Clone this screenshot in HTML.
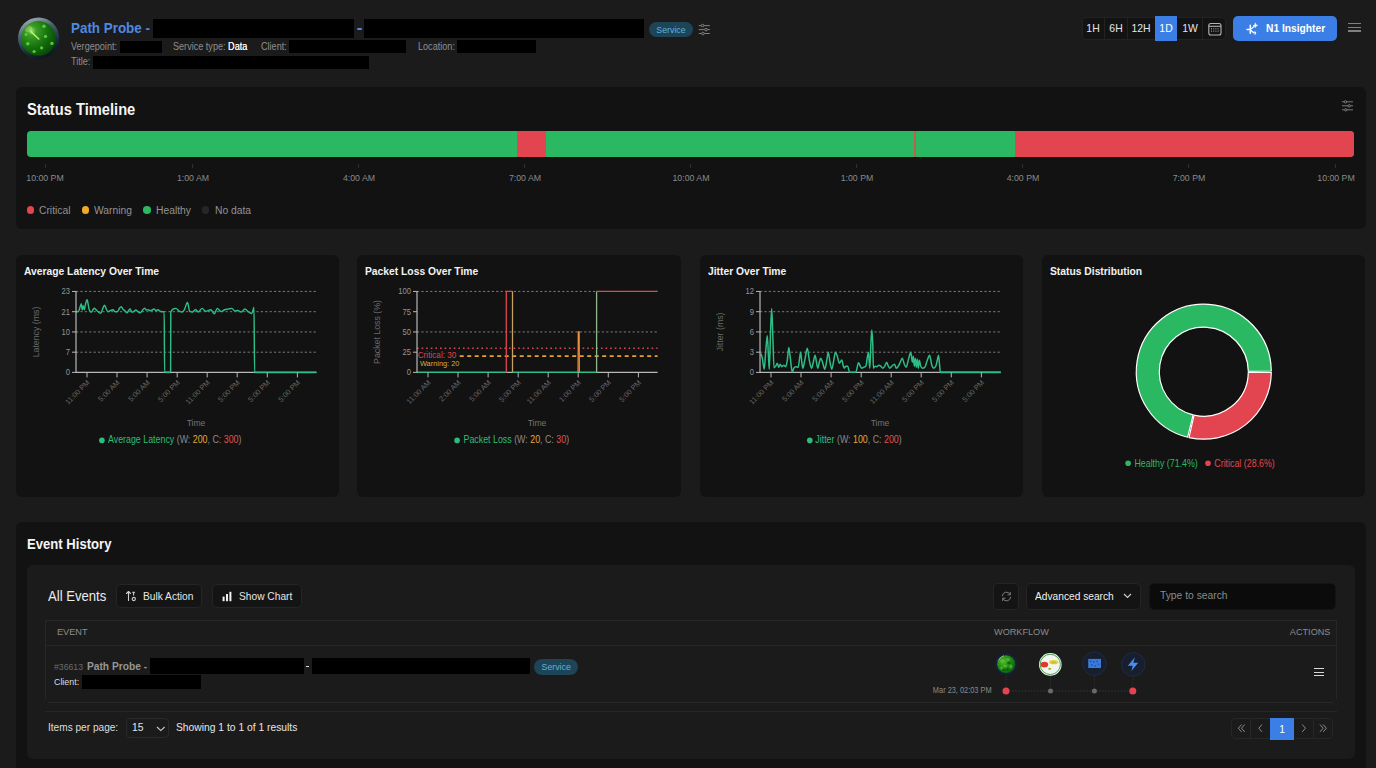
<!DOCTYPE html><html><head><meta charset="utf-8"><title>Path Probe</title><style>
html,body{margin:0;padding:0}
body{width:1376px;height:768px;overflow:hidden;background:#1b1b1b;font-family:"Liberation Sans",Arial,sans-serif;position:relative}
.a{position:absolute;box-sizing:border-box}
.t{position:absolute;white-space:nowrap}
svg{position:absolute;overflow:visible}
</style></head><body>
<svg style="left:17px;top:17px" width="43" height="43" viewBox="0 0 43 43">
<defs>
<radialGradient id="lg1" cx="0.3" cy="0.28" r="0.9"><stop offset="0" stop-color="#a8e070"/><stop offset="0.15" stop-color="#3c9e26"/><stop offset="0.5" stop-color="#17740f"/><stop offset="1" stop-color="#073806"/></radialGradient>
<linearGradient id="lg2" x1="0.2" y1="0" x2="0.6" y2="1"><stop offset="0" stop-color="#a9b6bb"/><stop offset="0.35" stop-color="#4a6470"/><stop offset="0.7" stop-color="#1a3240"/><stop offset="1" stop-color="#0a161e"/></linearGradient>
</defs>
<circle cx="21.6" cy="21.1" r="20.6" fill="url(#lg2)"/>
<circle cx="21.5" cy="21.4" r="17.3" fill="url(#lg1)"/>
<ellipse cx="11.5" cy="12" rx="4" ry="2.6" fill="#d8f8a0" opacity="0.3" transform="rotate(-40 11.5 12)"/>
<line x1="21.8" y1="22" x2="13.6" y2="14.4" stroke="#b8f070" stroke-width="1.5" stroke-linecap="round"/>
<g fill="#58d03a" opacity="0.95"><circle cx="27" cy="9.3" r="1.8"/><circle cx="28.5" cy="19.4" r="1.7"/><circle cx="34.9" cy="26.4" r="1.7"/><circle cx="24.6" cy="30.8" r="1.6"/><circle cx="17.1" cy="34.5" r="1.6"/><circle cx="10.8" cy="26.7" r="1.8"/><circle cx="9" cy="17.6" r="1.5"/></g>
</svg>
<div class="t" style="left:71.30px;top:20.75px;font-size:14.47px;line-height:14.47px;color:#4f89e0;font-weight:700;transform:scaleX(0.9259);transform-origin:0 0;">Path Probe -</div>
<div class="a" style="left:153.00px;top:19.00px;width:200.80px;height:18.70px;background:#000"></div>
<div class="a" style="left:357.40px;top:28.00px;width:4.40px;height:2.00px;background:#4f89e0;border-radius:1px"></div>
<div class="a" style="left:364.00px;top:19.00px;width:280.00px;height:18.70px;background:#000"></div>
<div class="a" style="left:649px;top:22.4px;width:44px;height:15px;border-radius:8px;background:#1e4458;color:#5ab4dc;font-size:8.8px;line-height:16.6px;text-align:center">Service</div>
<svg style="left:698px;top:23px" width="13" height="13" viewBox="0 0 13 13"><g stroke="#8a8a8a" stroke-width="0.9" fill="none">
<line x1="0.7" y1="2.6" x2="11.9" y2="2.6"/><line x1="0.7" y1="6.6" x2="11.9" y2="6.6"/><line x1="0.7" y1="10.5" x2="11.9" y2="10.5"/></g>
<g fill="#1b1b1b" stroke="#8a8a8a" stroke-width="0.9"><circle cx="4.6" cy="2.6" r="1.3"/><circle cx="8" cy="6.6" r="1.3"/><circle cx="4.9" cy="10.5" r="1.3"/></g></svg>
<div class="t" style="left:71.00px;top:40.56px;font-size:10.56px;line-height:10.56px;color:#8f8f8f;font-weight:400;transform:scaleX(0.8621);transform-origin:0 0;">Vergepoint:</div>
<div class="a" style="left:120.00px;top:40.80px;width:41.70px;height:12.50px;background:#000"></div>
<div class="t" style="left:173.40px;top:40.56px;font-size:10.56px;line-height:10.56px;color:#8f8f8f;font-weight:400;transform:scaleX(0.8621);transform-origin:0 0;">Service type: <span style="color:#f4f4f4;text-shadow:0 0 0.35px #fff">Data</span></div>
<div class="t" style="left:261.00px;top:40.56px;font-size:10.56px;line-height:10.56px;color:#8f8f8f;font-weight:400;transform:scaleX(0.8621);transform-origin:0 0;">Client:</div>
<div class="a" style="left:289.00px;top:40.40px;width:117.00px;height:12.60px;background:#000"></div>
<div class="t" style="left:418.00px;top:40.56px;font-size:10.56px;line-height:10.56px;color:#8f8f8f;font-weight:400;transform:scaleX(0.8621);transform-origin:0 0;">Location:</div>
<div class="a" style="left:457.00px;top:40.40px;width:78.70px;height:12.80px;background:#000"></div>
<div class="t" style="left:71.00px;top:56.21px;font-size:10.74px;line-height:10.74px;color:#8f8f8f;font-weight:400;transform:scaleX(0.8475);transform-origin:0 0;">Title:</div>
<div class="a" style="left:93.00px;top:56.20px;width:276.00px;height:12.70px;background:#000"></div>
<div class="a" style="left:1081.60px;top:16.70px;width:144.80px;height:22.90px;background:#131313;border:1px solid #222;border-radius:4px"></div>
<div class="t" style="left:893.00px;width:400px;text-align:center;top:23.22px;font-size:11.44px;line-height:11.44px;color:#e6e6e6;font-weight:400;transform:scaleX(0.9091);transform-origin:50% 0;">1H</div>
<div class="t" style="left:915.50px;width:400px;text-align:center;top:23.22px;font-size:11.44px;line-height:11.44px;color:#e6e6e6;font-weight:400;transform:scaleX(0.9091);transform-origin:50% 0;">6H</div>
<div class="t" style="left:941.00px;width:400px;text-align:center;top:23.22px;font-size:11.44px;line-height:11.44px;color:#e6e6e6;font-weight:400;transform:scaleX(0.9091);transform-origin:50% 0;">12H</div>
<div class="a" style="left:1154.80px;top:16.00px;width:22.20px;height:24.80px;background:#3b7fe6"></div>
<div class="t" style="left:966.00px;width:400px;text-align:center;top:23.22px;font-size:11.44px;line-height:11.44px;color:#ffffff;font-weight:400;transform:scaleX(0.9091);transform-origin:50% 0;">1D</div>
<div class="t" style="left:989.50px;width:400px;text-align:center;top:23.22px;font-size:11.44px;line-height:11.44px;color:#e6e6e6;font-weight:400;transform:scaleX(0.9091);transform-origin:50% 0;">1W</div>
<div class="a" style="left:1104.00px;top:17.70px;width:1.00px;height:20.90px;background:#222"></div>
<div class="a" style="left:1127.00px;top:17.70px;width:1.00px;height:20.90px;background:#222"></div>
<div class="a" style="left:1202.00px;top:17.70px;width:1.00px;height:20.90px;background:#222"></div>
<svg style="left:1207.5px;top:22px" width="14" height="14" viewBox="0 0 14 14"><g fill="none" stroke="#b4b4b4" stroke-width="1.1">
<rect x="0.8" y="1.5" width="12.2" height="11.5" rx="2"/><line x1="0.8" y1="4.3" x2="13" y2="4.3"/></g>
<g fill="#b4b4b4"><rect x="3" y="6.3" width="1" height="1"/><rect x="5.2" y="6.3" width="1" height="1"/><rect x="7.4" y="6.3" width="1" height="1"/><rect x="9.6" y="6.3" width="1" height="1"/>
<rect x="3" y="8.6" width="1" height="1"/><rect x="5.2" y="8.6" width="1" height="1"/><rect x="7.4" y="8.6" width="1" height="1"/><rect x="9.6" y="8.6" width="1" height="1"/></g></svg>
<div class="a" style="left:1233.00px;top:16.00px;width:104.00px;height:24.50px;background:#3b7fe6;border-radius:5px"></div>
<svg style="left:1245px;top:21.5px" width="14" height="14" viewBox="0 0 14 14"><g fill="#ffffff" stroke="#ffffff" stroke-linecap="round" stroke-linejoin="round">
<path d="M5.3 3.2 L5.3 6.2 M2 7.6 L5 7.6 M5.3 9 L5.3 11.2" stroke-width="1.5" fill="none"/>
<path d="M5.2 7.4 L9.2 4.6 M5.2 7.6 L8.6 10.8" stroke-width="1.2" fill="none"/>
<path d="M10.4 1.2 L11 2.9 L12.6 3.4 L11 4 L10.4 5.6 L9.8 4 L8.2 3.4 L9.8 2.9 Z" stroke-width="0.6"/>
<path d="M9 10 L10.6 10.3 L10 12.2" stroke-width="1.2" fill="none"/></g></svg>
<div class="t" style="left:1265.50px;top:23.26px;font-size:11.28px;line-height:11.28px;color:#ffffff;font-weight:700;transform:scaleX(0.9091);transform-origin:0 0;">N1 Insighter</div>
<div class="a" style="left:1348.40px;top:22.60px;width:13.10px;height:1.40px;background:#808080"></div>
<div class="a" style="left:1348.40px;top:26.70px;width:13.10px;height:1.40px;background:#808080"></div>
<div class="a" style="left:1348.40px;top:30.40px;width:13.10px;height:1.40px;background:#808080"></div>
<div class="a" style="left:16.00px;top:86.80px;width:1350.00px;height:141.90px;background:#121212;border-radius:6px"></div>
<div class="t" style="left:27.00px;top:100.71px;font-size:16.17px;line-height:16.17px;color:#f5f5f5;font-weight:700;transform:scaleX(0.9091);transform-origin:0 0;">Status Timeline</div>
<svg style="left:1341px;top:100px" width="13" height="12" viewBox="0 0 13 12"><g stroke="#858585" stroke-width="0.9" fill="none">
<line x1="1" y1="1.8" x2="12" y2="1.8"/><line x1="1" y1="5.8" x2="12" y2="5.8"/><line x1="1" y1="9.8" x2="12" y2="9.8"/></g>
<g fill="#121212" stroke="#858585" stroke-width="0.9"><circle cx="4.5" cy="1.8" r="1.2"/><circle cx="8.2" cy="5.8" r="1.2"/><circle cx="4.8" cy="9.8" r="1.2"/></g></svg>
<div class="a" style="left:27px;top:131.4px;width:1327.4px;height:25.3px;border-radius:4px;overflow:hidden;background:#2bb862">
<div class="a" style="left:489.80px;top:0;width:29.10px;height:100%;background:#e2454f"></div>
<div class="a" style="left:887.10px;top:0;width:1.50px;height:100%;background:#c0604c"></div>
<div class="a" style="left:987.80px;top:0;width:339.60px;height:100%;background:#e2454f"></div>
</div>
<div class="a" style="left:44.90px;top:163.50px;width:1.00px;height:4.00px;background:#2e2e2e"></div>
<div class="t" style="left:-154.60px;width:400px;text-align:center;top:173.24px;font-size:9.64px;line-height:9.64px;color:#8a8a8a;font-weight:400;transform:scaleX(0.9091);transform-origin:50% 0;">10:00 PM</div>
<div class="a" style="left:192.20px;top:163.50px;width:1.00px;height:4.00px;background:#2e2e2e"></div>
<div class="t" style="left:-7.30px;width:400px;text-align:center;top:173.24px;font-size:9.64px;line-height:9.64px;color:#8a8a8a;font-weight:400;transform:scaleX(0.9091);transform-origin:50% 0;">1:00 AM</div>
<div class="a" style="left:358.20px;top:163.50px;width:1.00px;height:4.00px;background:#2e2e2e"></div>
<div class="t" style="left:158.70px;width:400px;text-align:center;top:173.24px;font-size:9.64px;line-height:9.64px;color:#8a8a8a;font-weight:400;transform:scaleX(0.9091);transform-origin:50% 0;">4:00 AM</div>
<div class="a" style="left:524.20px;top:163.50px;width:1.00px;height:4.00px;background:#2e2e2e"></div>
<div class="t" style="left:324.70px;width:400px;text-align:center;top:173.24px;font-size:9.64px;line-height:9.64px;color:#8a8a8a;font-weight:400;transform:scaleX(0.9091);transform-origin:50% 0;">7:00 AM</div>
<div class="a" style="left:690.20px;top:163.50px;width:1.00px;height:4.00px;background:#2e2e2e"></div>
<div class="t" style="left:490.70px;width:400px;text-align:center;top:173.24px;font-size:9.64px;line-height:9.64px;color:#8a8a8a;font-weight:400;transform:scaleX(0.9091);transform-origin:50% 0;">10:00 AM</div>
<div class="a" style="left:856.20px;top:163.50px;width:1.00px;height:4.00px;background:#2e2e2e"></div>
<div class="t" style="left:656.70px;width:400px;text-align:center;top:173.24px;font-size:9.64px;line-height:9.64px;color:#8a8a8a;font-weight:400;transform:scaleX(0.9091);transform-origin:50% 0;">1:00 PM</div>
<div class="a" style="left:1022.20px;top:163.50px;width:1.00px;height:4.00px;background:#2e2e2e"></div>
<div class="t" style="left:822.70px;width:400px;text-align:center;top:173.24px;font-size:9.64px;line-height:9.64px;color:#8a8a8a;font-weight:400;transform:scaleX(0.9091);transform-origin:50% 0;">4:00 PM</div>
<div class="a" style="left:1188.00px;top:163.50px;width:1.00px;height:4.00px;background:#2e2e2e"></div>
<div class="t" style="left:988.50px;width:400px;text-align:center;top:173.24px;font-size:9.64px;line-height:9.64px;color:#8a8a8a;font-weight:400;transform:scaleX(0.9091);transform-origin:50% 0;">7:00 PM</div>
<div class="a" style="left:1335.40px;top:163.50px;width:1.00px;height:4.00px;background:#2e2e2e"></div>
<div class="t" style="left:1135.90px;width:400px;text-align:center;top:173.24px;font-size:9.64px;line-height:9.64px;color:#8a8a8a;font-weight:400;transform:scaleX(0.9091);transform-origin:50% 0;">10:00 PM</div>
<div class="a" style="left:26.55px;top:206.15px;width:7.50px;height:7.50px;background:#e2454f;border-radius:50%"></div>
<div class="t" style="left:38.80px;top:204.72px;font-size:10.61px;line-height:10.61px;color:#929292;font-weight:400;transform:scaleX(0.9709);transform-origin:0 0;">Critical</div>
<div class="a" style="left:81.85px;top:206.15px;width:7.50px;height:7.50px;background:#f0a92a;border-radius:50%"></div>
<div class="t" style="left:94.30px;top:204.72px;font-size:10.61px;line-height:10.61px;color:#929292;font-weight:400;transform:scaleX(0.9709);transform-origin:0 0;">Warning</div>
<div class="a" style="left:143.45px;top:206.15px;width:7.50px;height:7.50px;background:#2bb862;border-radius:50%"></div>
<div class="t" style="left:155.70px;top:204.72px;font-size:10.61px;line-height:10.61px;color:#929292;font-weight:400;transform:scaleX(0.9709);transform-origin:0 0;">Healthy</div>
<div class="a" style="left:201.95px;top:206.15px;width:7.50px;height:7.50px;background:#262626;border-radius:50%"></div>
<div class="t" style="left:214.50px;top:204.72px;font-size:10.61px;line-height:10.61px;color:#929292;font-weight:400;transform:scaleX(0.9709);transform-origin:0 0;">No data</div>
<div class="a" style="left:16.00px;top:254.80px;width:323.30px;height:241.90px;background:#121212;border-radius:6px"></div>
<div class="t" style="left:24.00px;top:266.01px;font-size:11.33px;line-height:11.33px;color:#f2f2f2;font-weight:700;transform:scaleX(0.9091);transform-origin:0 0;">Average Latency Over Time</div>
<div class="a" style="left:357.30px;top:254.80px;width:323.30px;height:241.90px;background:#121212;border-radius:6px"></div>
<div class="t" style="left:365.30px;top:266.01px;font-size:11.33px;line-height:11.33px;color:#f2f2f2;font-weight:700;transform:scaleX(0.9091);transform-origin:0 0;">Packet Loss Over Time</div>
<div class="a" style="left:700.20px;top:254.80px;width:323.30px;height:241.90px;background:#121212;border-radius:6px"></div>
<div class="t" style="left:708.20px;top:266.01px;font-size:11.33px;line-height:11.33px;color:#f2f2f2;font-weight:700;transform:scaleX(0.9091);transform-origin:0 0;">Jitter Over Time</div>
<div class="a" style="left:1042.20px;top:254.80px;width:323.30px;height:241.90px;background:#121212;border-radius:6px"></div>
<div class="t" style="left:1050.20px;top:266.01px;font-size:11.33px;line-height:11.33px;color:#f2f2f2;font-weight:700;transform:scaleX(0.9091);transform-origin:0 0;">Status Distribution</div>
<svg style="left:16px;top:254.8px" width="323.3" height="241.9" viewBox="0 0 323.3 241.9">
<line x1="60" y1="36.45" x2="300.6" y2="36.45" stroke="#7c7c7c" stroke-width="1" stroke-dasharray="2.2 2.2"/>
<line x1="60" y1="56.7" x2="300.6" y2="56.7" stroke="#7c7c7c" stroke-width="1" stroke-dasharray="2.2 2.2"/>
<line x1="60" y1="76.95" x2="300.6" y2="76.95" stroke="#7c7c7c" stroke-width="1" stroke-dasharray="2.2 2.2"/>
<line x1="60" y1="97.2" x2="300.6" y2="97.2" stroke="#7c7c7c" stroke-width="1" stroke-dasharray="2.2 2.2"/>
<line x1="56" y1="36.45" x2="60" y2="36.45" stroke="#b8b8b8" stroke-width="1"/>
<text x="0" y="0" transform="translate(54 39.35) scale(0.9091 1)" font-size="8.36" fill="#959595" text-anchor="end">23</text>
<line x1="56" y1="56.7" x2="60" y2="56.7" stroke="#b8b8b8" stroke-width="1"/>
<text x="0" y="0" transform="translate(54 59.6) scale(0.9091 1)" font-size="8.36" fill="#959595" text-anchor="end">21</text>
<line x1="56" y1="76.95" x2="60" y2="76.95" stroke="#b8b8b8" stroke-width="1"/>
<text x="0" y="0" transform="translate(54 79.85000000000001) scale(0.9091 1)" font-size="8.36" fill="#959595" text-anchor="end">10</text>
<line x1="56" y1="97.2" x2="60" y2="97.2" stroke="#b8b8b8" stroke-width="1"/>
<text x="0" y="0" transform="translate(54 100.10000000000001) scale(0.9091 1)" font-size="8.36" fill="#959595" text-anchor="end">7</text>
<line x1="56" y1="117.4" x2="60" y2="117.4" stroke="#b8b8b8" stroke-width="1"/>
<text x="0" y="0" transform="translate(54 120.30000000000001) scale(0.9091 1)" font-size="8.36" fill="#959595" text-anchor="end">0</text>
<text x="0" y="0" transform="translate(23 77) rotate(-90)" font-size="8.8" fill="#6a6a6a" text-anchor="middle">Latency (ms)</text>
<path d="M60.00,56.70 C60.80,56.67 61.60,56.63 62.40,56.50 C62.93,56.41 63.47,53.61 64.00,52.20 C64.43,51.05 64.87,48.80 65.30,48.80 C65.60,48.80 65.90,55.00 66.20,55.00 C66.53,55.00 66.87,50.70 67.20,50.70 C67.57,50.70 67.93,54.70 68.30,54.70 C68.70,54.70 69.10,50.72 69.50,49.20 C70.03,47.17 70.57,44.80 71.10,44.80 C71.57,44.80 72.03,49.01 72.50,51.20 C72.77,52.45 73.03,54.44 73.30,55.00 C74.00,56.47 74.70,57.20 75.40,57.20 C75.93,57.20 76.47,55.41 77.00,54.70 C77.43,54.12 77.87,53.20 78.30,53.20 C78.87,53.20 79.43,54.17 80.00,54.70 C80.67,55.32 81.33,56.16 82.00,56.70 C82.97,57.48 83.93,58.20 84.90,58.20 C85.43,58.20 85.97,55.41 86.50,54.20 C87.17,52.68 87.83,50.20 88.50,50.20 C89.00,50.20 89.50,52.01 90.00,53.20 C90.23,53.76 90.47,54.56 90.70,55.00 C91.30,56.13 91.90,56.70 92.50,56.70 C93.00,56.70 93.50,55.95 94.00,55.70 C94.50,55.45 95.00,55.37 95.50,55.20 C96.00,55.03 96.50,54.70 97.00,54.70 C97.67,54.70 98.33,56.70 99.00,56.70 C99.87,56.70 100.73,56.63 101.60,56.50 C102.23,56.40 102.87,54.01 103.50,53.20 C104.07,52.47 104.63,51.70 105.20,51.70 C105.80,51.70 106.40,53.54 107.00,54.20 C107.63,54.89 108.27,55.12 108.90,55.70 C109.60,56.34 110.30,57.90 111.00,57.90 C111.50,57.90 112.00,56.37 112.50,55.70 C113.00,55.03 113.50,53.90 114.00,53.90 C114.67,53.90 115.33,57.20 116.00,57.20 C116.67,57.20 117.33,56.59 118.00,56.20 C118.60,55.85 119.20,55.00 119.80,55.00 C120.53,55.00 121.27,56.21 122.00,56.70 C122.70,57.17 123.40,57.90 124.10,57.90 C124.90,57.90 125.70,56.05 126.50,55.20 C127.17,54.50 127.83,53.20 128.50,53.20 C129.17,53.20 129.83,55.00 130.50,55.00 C131.17,55.00 131.83,54.70 132.50,54.70 C133.00,54.70 133.50,55.70 134.00,55.70 C134.67,55.70 135.33,55.48 136.00,55.20 C136.67,54.92 137.33,54.00 138.00,54.00 C138.67,54.00 139.33,55.70 140.00,55.70 C140.67,55.70 141.33,54.70 142.00,54.70 C142.67,54.70 143.33,55.87 144.00,56.20 C144.67,56.53 145.33,56.70 146.00,56.70 C146.73,56.70 147.47,56.70 148.20,56.70 C148.33,56.70 148.47,117.40 148.60,117.40 C150.60,117.40 152.60,117.40 154.60,117.40 C154.67,117.40 154.73,57.15 154.80,57.00 C155.77,54.80 156.73,53.96 157.70,53.70 C158.43,53.50 159.17,53.40 159.90,53.40 C161.10,53.40 162.30,55.70 163.50,56.30 C164.23,56.67 164.97,57.00 165.70,57.00 C166.57,57.00 167.43,56.08 168.30,54.80 C169.37,53.23 170.43,47.60 171.50,47.60 C172.23,47.60 172.97,55.95 173.70,56.30 C174.67,56.77 175.63,57.00 176.60,57.00 C177.57,57.00 178.53,54.50 179.50,54.50 C180.47,54.50 181.43,57.00 182.40,57.00 C183.63,57.00 184.87,53.40 186.10,53.40 C187.30,53.40 188.50,56.30 189.70,56.30 C191.40,56.30 193.10,54.80 194.80,54.80 C196.00,54.80 197.20,58.80 198.40,58.80 C199.37,58.80 200.33,53.40 201.30,53.40 C202.53,53.40 203.77,56.60 205.00,56.60 C206.20,56.60 207.40,55.22 208.60,54.80 C209.80,54.38 211.00,54.33 212.20,54.10 C213.43,53.86 214.67,53.40 215.90,53.40 C216.87,53.40 217.83,55.90 218.80,55.90 C219.77,55.90 220.73,55.50 221.70,55.50 C222.90,55.50 224.10,57.00 225.30,57.00 C226.50,57.00 227.70,54.10 228.90,54.10 C230.13,54.10 231.37,56.24 232.60,57.00 C233.67,57.66 234.73,58.50 235.80,58.50 C236.53,58.50 237.27,52.30 238.00,52.30 C238.20,52.30 238.40,117.40 238.60,117.40 C259.15,117.40 279.70,117.40 300.25,117.40" fill="none" stroke="#2dbd86" stroke-width="1.45" stroke-linejoin="round"/><line x1="60" y1="117.4" x2="300.6" y2="117.4" stroke="#b8b8b8" stroke-width="1.3"/><polyline points="238.6,117.4 300.2,117.4" fill="none" stroke="#2dbd86" stroke-width="1.5"/><polyline points="148.6,117.4 154.6,117.4" fill="none" stroke="#2dbd86" stroke-width="1.5"/>
<line x1="60" y1="35.95" x2="60" y2="117.4" stroke="#b8b8b8" stroke-width="1.2"/>
<line x1="71.0" y1="117.4" x2="71.0" y2="122.4" stroke="#b8b8b8" stroke-width="1"/>
<text x="0" y="0" transform="translate(74.1 128.1) rotate(-45)" font-size="7.35" fill="#686868" text-anchor="end">11:00 PM</text>
<line x1="101.0" y1="117.4" x2="101.0" y2="122.4" stroke="#b8b8b8" stroke-width="1"/>
<text x="0" y="0" transform="translate(104.1 128.1) rotate(-45)" font-size="7.35" fill="#686868" text-anchor="end">5:00 AM</text>
<line x1="131.1" y1="117.4" x2="131.1" y2="122.4" stroke="#b8b8b8" stroke-width="1"/>
<text x="0" y="0" transform="translate(134.2 128.1) rotate(-45)" font-size="7.35" fill="#686868" text-anchor="end">5:00 AM</text>
<line x1="161.2" y1="117.4" x2="161.2" y2="122.4" stroke="#b8b8b8" stroke-width="1"/>
<text x="0" y="0" transform="translate(164.2 128.1) rotate(-45)" font-size="7.35" fill="#686868" text-anchor="end">5:00 PM</text>
<line x1="191.2" y1="117.4" x2="191.2" y2="122.4" stroke="#b8b8b8" stroke-width="1"/>
<text x="0" y="0" transform="translate(194.3 128.1) rotate(-45)" font-size="7.35" fill="#686868" text-anchor="end">11:00 PM</text>
<line x1="221.2" y1="117.4" x2="221.2" y2="122.4" stroke="#b8b8b8" stroke-width="1"/>
<text x="0" y="0" transform="translate(224.3 128.1) rotate(-45)" font-size="7.35" fill="#686868" text-anchor="end">5:00 PM</text>
<line x1="251.3" y1="117.4" x2="251.3" y2="122.4" stroke="#b8b8b8" stroke-width="1"/>
<text x="0" y="0" transform="translate(254.4 128.1) rotate(-45)" font-size="7.35" fill="#686868" text-anchor="end">5:00 PM</text>
<line x1="281.4" y1="117.4" x2="281.4" y2="122.4" stroke="#b8b8b8" stroke-width="1"/>
<text x="0" y="0" transform="translate(284.5 128.1) rotate(-45)" font-size="7.35" fill="#686868" text-anchor="end">5:00 PM</text>
<text x="0" y="0" transform="translate(180 171.2) scale(0.9091 1)" font-size="9.46" fill="#727272" text-anchor="middle">Time</text>
<circle cx="85.9" cy="185.4" r="2.8" fill="#2dbd7a"/><text x="0" y="0" transform="translate(92 188.5) scale(0.8772 1)" font-size="10.09" fill="#2dbd7a">Average Latency <tspan fill="#8a8a8a">(W: </tspan><tspan fill="#e0a83a">200</tspan><tspan fill="#8a8a8a">, C: </tspan><tspan fill="#e05050">300</tspan><tspan fill="#8a8a8a">)</tspan></text>
</svg>
<svg style="left:357.3px;top:254.8px" width="323.3" height="241.9" viewBox="0 0 323.3 241.9">
<line x1="60" y1="36.45" x2="300.6" y2="36.45" stroke="#7c7c7c" stroke-width="1" stroke-dasharray="2.2 2.2"/>
<line x1="60" y1="76.95" x2="300.6" y2="76.95" stroke="#7c7c7c" stroke-width="1" stroke-dasharray="2.2 2.2"/>
<line x1="56" y1="36.45" x2="60" y2="36.45" stroke="#b8b8b8" stroke-width="1"/>
<text x="0" y="0" transform="translate(54 39.35) scale(0.9091 1)" font-size="8.36" fill="#959595" text-anchor="end">100</text>
<line x1="56" y1="56.7" x2="60" y2="56.7" stroke="#b8b8b8" stroke-width="1"/>
<text x="0" y="0" transform="translate(54 59.6) scale(0.9091 1)" font-size="8.36" fill="#959595" text-anchor="end">75</text>
<line x1="56" y1="76.95" x2="60" y2="76.95" stroke="#b8b8b8" stroke-width="1"/>
<text x="0" y="0" transform="translate(54 79.85000000000001) scale(0.9091 1)" font-size="8.36" fill="#959595" text-anchor="end">50</text>
<line x1="56" y1="97.2" x2="60" y2="97.2" stroke="#b8b8b8" stroke-width="1"/>
<text x="0" y="0" transform="translate(54 100.10000000000001) scale(0.9091 1)" font-size="8.36" fill="#959595" text-anchor="end">25</text>
<line x1="56" y1="117.4" x2="60" y2="117.4" stroke="#b8b8b8" stroke-width="1"/>
<text x="0" y="0" transform="translate(54 120.30000000000001) scale(0.9091 1)" font-size="8.36" fill="#959595" text-anchor="end">0</text>
<text x="0" y="0" transform="translate(23 77) rotate(-90)" font-size="8.8" fill="#6a6a6a" text-anchor="middle">Packet Loss (%)</text>
<line x1="60" y1="93.2" x2="300.6" y2="93.2" stroke="#d9464f" stroke-width="1.6" stroke-dasharray="1.6 3"/><line x1="102.7" y1="101.1" x2="300.6" y2="101.1" stroke="#e8a030" stroke-width="1.6" stroke-dasharray="4 3.5"/><text x="60.7" y="102.9" font-size="8.2" fill="#d9464f">Critical: 30</text><text x="62.9" y="110.8" font-size="7.4" fill="#d8ae3c">Warning: 20</text><line x1="60" y1="117.4" x2="300.6" y2="117.4" stroke="#b8b8b8" stroke-width="1.3"/><polyline points="60.2,117.4 149.3,117.4" fill="none" stroke="#2dbd86" stroke-width="1.4"/><polyline points="149.3,117.4 149.3,36.4 155.5,36.4" fill="none" stroke="#e0474f" stroke-width="1.3"/><polyline points="155.5,36.4 155.5,117.4" fill="none" stroke="#c8a060" stroke-width="1.3"/><polyline points="155.5,117.4 239.6,117.4" fill="none" stroke="#2dbd86" stroke-width="1.4"/><polyline points="221.0,117.4 221.2,76.8 222.2,76.8 222.4,117.4" fill="none" stroke="#f0903a" stroke-width="1.1"/><polyline points="239.6,117.4 239.6,36.4" fill="none" stroke="#8fb888" stroke-width="1.3"/><polyline points="239.6,36.4 300.7,36.4" fill="none" stroke="#e0474f" stroke-width="1.4"/>
<line x1="60" y1="35.95" x2="60" y2="117.4" stroke="#b8b8b8" stroke-width="1.2"/>
<line x1="71.0" y1="117.4" x2="71.0" y2="122.4" stroke="#b8b8b8" stroke-width="1"/>
<text x="0" y="0" transform="translate(74.1 128.1) rotate(-45)" font-size="7.35" fill="#686868" text-anchor="end">11:00 AM</text>
<line x1="101.0" y1="117.4" x2="101.0" y2="122.4" stroke="#b8b8b8" stroke-width="1"/>
<text x="0" y="0" transform="translate(104.1 128.1) rotate(-45)" font-size="7.35" fill="#686868" text-anchor="end">2:00 AM</text>
<line x1="131.1" y1="117.4" x2="131.1" y2="122.4" stroke="#b8b8b8" stroke-width="1"/>
<text x="0" y="0" transform="translate(134.2 128.1) rotate(-45)" font-size="7.35" fill="#686868" text-anchor="end">5:00 AM</text>
<line x1="161.2" y1="117.4" x2="161.2" y2="122.4" stroke="#b8b8b8" stroke-width="1"/>
<text x="0" y="0" transform="translate(164.2 128.1) rotate(-45)" font-size="7.35" fill="#686868" text-anchor="end">5:00 PM</text>
<line x1="191.2" y1="117.4" x2="191.2" y2="122.4" stroke="#b8b8b8" stroke-width="1"/>
<text x="0" y="0" transform="translate(194.3 128.1) rotate(-45)" font-size="7.35" fill="#686868" text-anchor="end">11:00 AM</text>
<line x1="221.2" y1="117.4" x2="221.2" y2="122.4" stroke="#b8b8b8" stroke-width="1"/>
<text x="0" y="0" transform="translate(224.3 128.1) rotate(-45)" font-size="7.35" fill="#686868" text-anchor="end">1:00 PM</text>
<line x1="251.3" y1="117.4" x2="251.3" y2="122.4" stroke="#b8b8b8" stroke-width="1"/>
<text x="0" y="0" transform="translate(254.4 128.1) rotate(-45)" font-size="7.35" fill="#686868" text-anchor="end">5:00 PM</text>
<line x1="281.4" y1="117.4" x2="281.4" y2="122.4" stroke="#b8b8b8" stroke-width="1"/>
<text x="0" y="0" transform="translate(284.5 128.1) rotate(-45)" font-size="7.35" fill="#686868" text-anchor="end">5:00 PM</text>
<text x="0" y="0" transform="translate(180 171.2) scale(0.9091 1)" font-size="9.46" fill="#727272" text-anchor="middle">Time</text>
<circle cx="100.1" cy="185.4" r="2.8" fill="#2dbd7a"/><text x="0" y="0" transform="translate(106.5 188.5) scale(0.8772 1)" font-size="10.09" fill="#2dbd7a">Packet Loss <tspan fill="#8a8a8a">(W: </tspan><tspan fill="#e0a83a">20</tspan><tspan fill="#8a8a8a">, C: </tspan><tspan fill="#e05050">30</tspan><tspan fill="#8a8a8a">)</tspan></text>
</svg>
<svg style="left:700.2px;top:254.8px" width="323.3" height="241.9" viewBox="0 0 323.3 241.9">
<line x1="60" y1="36.45" x2="300.6" y2="36.45" stroke="#7c7c7c" stroke-width="1" stroke-dasharray="2.2 2.2"/>
<line x1="60" y1="56.7" x2="300.6" y2="56.7" stroke="#7c7c7c" stroke-width="1" stroke-dasharray="2.2 2.2"/>
<line x1="60" y1="76.95" x2="300.6" y2="76.95" stroke="#7c7c7c" stroke-width="1" stroke-dasharray="2.2 2.2"/>
<line x1="60" y1="97.2" x2="300.6" y2="97.2" stroke="#7c7c7c" stroke-width="1" stroke-dasharray="2.2 2.2"/>
<line x1="56" y1="36.45" x2="60" y2="36.45" stroke="#b8b8b8" stroke-width="1"/>
<text x="0" y="0" transform="translate(54 39.35) scale(0.9091 1)" font-size="8.36" fill="#959595" text-anchor="end">12</text>
<line x1="56" y1="56.7" x2="60" y2="56.7" stroke="#b8b8b8" stroke-width="1"/>
<text x="0" y="0" transform="translate(54 59.6) scale(0.9091 1)" font-size="8.36" fill="#959595" text-anchor="end">9</text>
<line x1="56" y1="76.95" x2="60" y2="76.95" stroke="#b8b8b8" stroke-width="1"/>
<text x="0" y="0" transform="translate(54 79.85000000000001) scale(0.9091 1)" font-size="8.36" fill="#959595" text-anchor="end">6</text>
<line x1="56" y1="97.2" x2="60" y2="97.2" stroke="#b8b8b8" stroke-width="1"/>
<text x="0" y="0" transform="translate(54 100.10000000000001) scale(0.9091 1)" font-size="8.36" fill="#959595" text-anchor="end">3</text>
<line x1="56" y1="117.4" x2="60" y2="117.4" stroke="#b8b8b8" stroke-width="1"/>
<text x="0" y="0" transform="translate(54 120.30000000000001) scale(0.9091 1)" font-size="8.36" fill="#959595" text-anchor="end">0</text>
<text x="0" y="0" transform="translate(23 77) rotate(-90)" font-size="8.8" fill="#6a6a6a" text-anchor="middle">Jitter (ms)</text>
<line x1="60" y1="117.4" x2="300.6" y2="117.4" stroke="#b8b8b8" stroke-width="1.3"/><path d="M60.80,98.60 C61.30,99.83 61.80,101.07 62.30,103.20 C62.93,105.90 63.57,114.20 64.20,114.20 C64.73,114.20 65.27,100.93 65.80,95.20 C66.30,89.83 66.80,80.70 67.30,80.70 C67.67,80.70 68.03,94.14 68.40,100.20 C68.70,105.16 69.00,114.20 69.30,114.20 C69.73,114.20 70.17,85.72 70.60,75.20 C70.97,66.29 71.33,53.80 71.70,53.80 C72.07,53.80 72.43,70.86 72.80,80.20 C73.20,90.39 73.60,112.70 74.00,112.70 C74.60,112.70 75.20,112.08 75.80,111.20 C76.30,110.47 76.80,108.20 77.30,108.20 C77.80,108.20 78.30,112.20 78.80,112.20 C79.30,112.20 79.80,109.20 80.30,109.20 C80.80,109.20 81.30,111.70 81.80,111.70 C82.47,111.70 83.13,110.20 83.80,110.20 C84.47,110.20 85.13,111.70 85.80,111.70 C86.30,111.70 86.80,108.42 87.30,105.20 C87.80,101.98 88.30,92.40 88.80,92.40 C89.30,92.40 89.80,99.64 90.30,103.20 C90.97,107.94 91.63,117.20 92.30,117.20 C92.80,117.20 93.30,113.95 93.80,113.20 C94.47,112.20 95.13,111.70 95.80,111.70 C96.60,111.70 97.40,112.20 98.20,112.20 C99.00,112.20 99.80,97.20 100.60,97.20 C101.00,97.20 101.40,104.38 101.80,107.20 C102.13,109.55 102.47,113.20 102.80,113.20 C103.47,113.20 104.13,108.10 104.80,105.20 C105.63,101.57 106.47,93.20 107.30,93.20 C107.97,93.20 108.63,101.95 109.30,105.20 C110.03,108.77 110.77,113.20 111.50,113.20 C112.10,113.20 112.70,109.37 113.30,107.20 C113.90,105.03 114.50,100.20 115.10,100.20 C115.67,100.20 116.23,106.66 116.80,109.20 C117.13,110.69 117.47,113.20 117.80,113.20 C118.30,113.20 118.80,108.87 119.30,107.20 C119.80,105.53 120.30,103.20 120.80,103.20 C121.47,103.20 122.13,106.37 122.80,108.20 C123.47,110.03 124.13,114.20 124.80,114.20 C125.47,114.20 126.13,108.68 126.80,105.20 C127.27,102.77 127.73,97.20 128.20,97.20 C128.73,97.20 129.27,103.59 129.80,106.20 C130.47,109.47 131.13,114.20 131.80,114.20 C132.47,114.20 133.13,108.39 133.80,105.20 C134.33,102.65 134.87,97.20 135.40,97.20 C136.03,97.20 136.67,99.44 137.30,101.20 C137.97,103.06 138.63,108.20 139.30,108.20 C140.13,108.20 140.97,104.90 141.80,104.90 C142.30,104.90 142.80,109.76 143.30,111.20 C143.63,112.16 143.97,113.20 144.30,113.20 C144.80,113.20 145.30,111.20 145.80,111.20 C146.47,111.20 147.13,111.20 147.80,111.20 C148.37,111.20 148.93,117.20 149.50,117.20 C151.60,117.20 153.70,117.20 155.80,117.20 C156.72,117.20 157.63,107.70 158.55,107.70 C159.13,107.70 159.72,110.24 160.30,111.20 C160.80,112.02 161.30,113.20 161.80,113.20 C162.47,113.20 163.13,112.53 163.80,112.20 C164.47,111.87 165.13,111.87 165.80,111.20 C166.67,110.33 167.53,97.20 168.40,97.20 C168.87,97.20 169.33,113.20 169.80,113.20 C170.13,113.20 170.47,96.58 170.80,90.20 C171.13,83.82 171.47,74.90 171.80,74.90 C172.13,74.90 172.47,80.30 172.80,90.20 C173.00,96.14 173.20,113.20 173.40,113.20 C174.03,113.20 174.67,111.20 175.30,111.20 C175.80,111.20 176.30,111.70 176.80,111.70 C177.47,111.70 178.13,110.20 178.80,110.20 C179.47,110.20 180.13,110.70 180.80,111.20 C181.47,111.70 182.13,113.20 182.80,113.20 C183.47,113.20 184.13,112.24 184.80,111.20 C185.43,110.21 186.07,107.20 186.70,107.20 C187.23,107.20 187.77,110.19 188.30,111.20 C188.80,112.15 189.30,113.20 189.80,113.20 C190.47,113.20 191.13,111.79 191.80,111.20 C192.70,110.40 193.60,109.20 194.50,109.20 C195.10,109.20 195.70,113.20 196.30,113.20 C196.97,113.20 197.63,112.20 198.30,111.20 C198.97,110.20 199.63,108.53 200.30,107.20 C200.97,105.87 201.63,103.20 202.30,103.20 C202.97,103.20 203.63,107.69 204.30,109.20 C204.93,110.64 205.57,112.20 206.20,112.20 C206.73,112.20 207.27,109.11 207.80,107.20 C208.30,105.41 208.80,102.87 209.30,101.20 C209.80,99.53 210.30,97.20 210.80,97.20 C211.30,97.20 211.80,107.20 212.30,107.20 C212.63,107.20 212.97,101.20 213.30,101.20 C213.63,101.20 213.97,111.20 214.30,111.20 C214.63,111.20 214.97,103.20 215.30,103.20 C215.63,103.20 215.97,112.20 216.30,112.20 C216.63,112.20 216.97,104.20 217.30,104.20 C217.63,104.20 217.97,113.20 218.30,113.20 C218.63,113.20 218.97,105.20 219.30,105.20 C219.80,105.20 220.30,110.09 220.80,111.20 C221.40,112.53 222.00,113.20 222.60,113.20 C223.33,113.20 224.07,112.87 224.80,112.20 C225.63,111.44 226.47,107.26 227.30,105.20 C228.07,103.30 228.83,100.20 229.60,100.20 C230.33,100.20 231.07,108.02 231.80,110.20 C232.38,111.93 232.97,113.20 233.55,113.20 C234.30,113.20 235.05,112.53 235.80,111.20 C236.30,110.31 236.80,107.20 237.30,105.20 C237.72,103.53 238.13,100.20 238.55,100.20 C238.90,100.20 239.25,106.77 239.60,110.20 C239.83,112.49 240.07,117.20 240.30,117.20 C260.47,117.20 280.63,117.20 300.80,117.20" fill="none" stroke="#2dbd86" stroke-width="1.5" stroke-linejoin="round"/><polyline points="240.3,117.4 300.8,117.4" fill="none" stroke="#2dbd86" stroke-width="1.5"/>
<line x1="60" y1="35.95" x2="60" y2="117.4" stroke="#b8b8b8" stroke-width="1.2"/>
<line x1="71.0" y1="117.4" x2="71.0" y2="122.4" stroke="#b8b8b8" stroke-width="1"/>
<text x="0" y="0" transform="translate(74.1 128.1) rotate(-45)" font-size="7.35" fill="#686868" text-anchor="end">11:00 PM</text>
<line x1="101.0" y1="117.4" x2="101.0" y2="122.4" stroke="#b8b8b8" stroke-width="1"/>
<text x="0" y="0" transform="translate(104.1 128.1) rotate(-45)" font-size="7.35" fill="#686868" text-anchor="end">5:00 AM</text>
<line x1="131.1" y1="117.4" x2="131.1" y2="122.4" stroke="#b8b8b8" stroke-width="1"/>
<text x="0" y="0" transform="translate(134.2 128.1) rotate(-45)" font-size="7.35" fill="#686868" text-anchor="end">5:00 AM</text>
<line x1="161.2" y1="117.4" x2="161.2" y2="122.4" stroke="#b8b8b8" stroke-width="1"/>
<text x="0" y="0" transform="translate(164.2 128.1) rotate(-45)" font-size="7.35" fill="#686868" text-anchor="end">5:00 PM</text>
<line x1="191.2" y1="117.4" x2="191.2" y2="122.4" stroke="#b8b8b8" stroke-width="1"/>
<text x="0" y="0" transform="translate(194.3 128.1) rotate(-45)" font-size="7.35" fill="#686868" text-anchor="end">11:00 AM</text>
<line x1="221.2" y1="117.4" x2="221.2" y2="122.4" stroke="#b8b8b8" stroke-width="1"/>
<text x="0" y="0" transform="translate(224.3 128.1) rotate(-45)" font-size="7.35" fill="#686868" text-anchor="end">5:00 PM</text>
<line x1="251.3" y1="117.4" x2="251.3" y2="122.4" stroke="#b8b8b8" stroke-width="1"/>
<text x="0" y="0" transform="translate(254.4 128.1) rotate(-45)" font-size="7.35" fill="#686868" text-anchor="end">5:00 PM</text>
<line x1="281.4" y1="117.4" x2="281.4" y2="122.4" stroke="#b8b8b8" stroke-width="1"/>
<text x="0" y="0" transform="translate(284.5 128.1) rotate(-45)" font-size="7.35" fill="#686868" text-anchor="end">5:00 PM</text>
<text x="0" y="0" transform="translate(180 171.2) scale(0.9091 1)" font-size="9.46" fill="#727272" text-anchor="middle">Time</text>
<circle cx="109.8" cy="185.4" r="2.8" fill="#2dbd7a"/><text x="0" y="0" transform="translate(115.3 188.5) scale(0.8772 1)" font-size="10.09" fill="#2dbd7a">Jitter <tspan fill="#8a8a8a">(W: </tspan><tspan fill="#e0a83a">100</tspan><tspan fill="#8a8a8a">, C: </tspan><tspan fill="#e05050">200</tspan><tspan fill="#8a8a8a">)</tspan></text>
</svg>
<svg style="left:1042.2px;top:254.8px" width="323.3" height="241.9" viewBox="0 0 323.3 241.9">
<path d="M145.63,182.23 A67.5,67.5 0 1 1 229.30,115.99 L206.30,116.23 A44.5,44.5 0 1 0 151.14,159.90 Z" fill="#2bb862" stroke="#ffffff" stroke-width="1.2" stroke-linejoin="round"/>
<path d="M229.30,117.41 A67.5,67.5 0 0 1 147.01,182.56 L152.05,160.12 A44.5,44.5 0 0 0 206.30,117.17 Z" fill="#e2454f" stroke="#ffffff" stroke-width="1.2" stroke-linejoin="round"/>
<circle cx="86.1" cy="208.3" r="2.8" fill="#2bb862"/>
<text x="0" y="0" transform="translate(92.4 211.6) scale(0.8772 1)" font-size="10.09" fill="#2bb862">Healthy (71.4%)</text>
<circle cx="166" cy="208.3" r="2.8" fill="#e2454f"/>
<text x="0" y="0" transform="translate(172.3 211.6) scale(0.8772 1)" font-size="10.09" fill="#e2454f">Critical (28.6%)</text>
</svg>
<div class="a" style="left:16.00px;top:521.80px;width:1350.00px;height:278.20px;background:#121212;border-radius:6px"></div>
<div class="t" style="left:27.30px;top:537.66px;font-size:13.76px;line-height:13.76px;color:#f5f5f5;font-weight:700;transform:scaleX(0.9524);transform-origin:0 0;">Event History</div>
<div class="a" style="left:27.30px;top:564.70px;width:1327.70px;height:194.00px;background:#1b1b1b;border-radius:6px"></div>
<div class="t" style="left:47.90px;top:589.22px;font-size:14.15px;line-height:14.15px;color:#ececec;font-weight:400;transform:scaleX(0.9259);transform-origin:0 0;">All Events</div>
<div class="a" style="left:116.00px;top:583.70px;width:86.40px;height:24.80px;background:#141414;border:1px solid #252525;border-radius:5px"></div>
<svg style="left:124.5px;top:590px" width="12" height="12" viewBox="0 0 12 12"><g fill="none" stroke="#cfcfcf" stroke-width="1.1" stroke-linecap="round" stroke-linejoin="round">
<path d="M3.5 10.5 L3.5 1.5 M1.5 3.5 L3.5 1.5 L5.5 3.5"/><circle cx="8.8" cy="9" r="1.6"/><path d="M7.6 2.2 L9.6 2.2 M8.6 2.2 L8.6 5"/></g></svg>
<div class="t" style="left:142.70px;top:591.10px;font-size:11.22px;line-height:11.22px;color:#e6e6e6;font-weight:400;transform:scaleX(0.9091);transform-origin:0 0;">Bulk Action</div>
<div class="a" style="left:211.70px;top:583.70px;width:90.50px;height:24.80px;background:#141414;border:1px solid #252525;border-radius:5px"></div>
<svg style="left:222px;top:591px" width="10" height="11" viewBox="0 0 10 11"><g fill="#f0f0f0">
<rect x="0.6" y="5.6" width="2" height="4.6"/><rect x="4" y="3" width="2" height="7.2"/><rect x="7.4" y="0.8" width="2" height="9.4"/></g></svg>
<div class="t" style="left:239.20px;top:591.10px;font-size:11.22px;line-height:11.22px;color:#e6e6e6;font-weight:400;transform:scaleX(0.9091);transform-origin:0 0;">Show Chart</div>
<div class="a" style="left:993.40px;top:583.40px;width:25.90px;height:26.50px;background:#141414;border:1px solid #252525;border-radius:5px"></div>
<svg style="left:1001px;top:591px" width="11" height="11" viewBox="0 0 11 11"><g fill="none" stroke="#7a7a7a" stroke-width="1" stroke-linecap="round">
<path d="M1.3 4.8 A4.2 4.2 0 0 1 9.3 3.6"/><path d="M9.3 1.3 L9.3 3.8 L6.9 3.8"/>
<path d="M9.7 6.2 A4.2 4.2 0 0 1 1.7 7.4"/><path d="M1.7 9.7 L1.7 7.2 L4.1 7.2"/></g></svg>
<div class="a" style="left:1025.90px;top:583.40px;width:115.10px;height:26.50px;background:#141414;border:1px solid #252525;border-radius:5px"></div>
<div class="t" style="left:1035.00px;top:590.37px;font-size:11.73px;line-height:11.73px;color:#f0f0f0;font-weight:400;transform:scaleX(0.8696);transform-origin:0 0;">Advanced search</div>
<svg style="left:1122.5px;top:593px" width="9" height="6" viewBox="0 0 9 6"><path d="M1 1 L4.5 4.5 L8 1" fill="none" stroke="#cfcfcf" stroke-width="1.1"/></svg>
<div class="a" style="left:1148.70px;top:583.00px;width:187.30px;height:27.10px;background:#0b0b0b;border:1px solid #141414;border-radius:5px"></div>
<div class="t" style="left:1160.40px;top:590.43px;font-size:11.54px;line-height:11.54px;color:#8a8a8a;font-weight:400;transform:scaleX(0.8929);transform-origin:0 0;">Type to search</div>
<div class="a" style="left:44.60px;top:620.00px;width:1292.20px;height:79.00px;border:1px solid #272727;border-bottom:none"></div>
<div class="a" style="left:44.60px;top:644.80px;width:1292.20px;height:1.00px;background:#272727"></div>
<div class="a" style="left:48.00px;top:701.70px;width:1285.00px;height:1.00px;background:#272727"></div>
<div class="a" style="left:45.00px;top:711.00px;width:1291.80px;height:1.00px;background:#272727"></div>
<div class="t" style="left:57.30px;top:628.40px;font-size:9.33px;line-height:9.33px;color:#8c8c8c;font-weight:400;transform:scaleX(0.9804);transform-origin:0 0;">EVENT</div>
<div class="t" style="left:994.10px;top:628.40px;font-size:9.33px;line-height:9.33px;color:#8c8c8c;font-weight:400;transform:scaleX(0.9804);transform-origin:0 0;">WORKFLOW</div>
<div class="t" style="right:45.70px;top:628.40px;font-size:9.33px;line-height:9.33px;color:#8c8c8c;font-weight:400;transform:scaleX(0.9804);transform-origin:100% 0;">ACTIONS</div>
<div class="t" style="left:54.00px;top:662.20px;font-size:9.57px;line-height:9.57px;color:#6a6a6a;font-weight:400;transform:scaleX(0.9091);transform-origin:0 0;">#36613</div>
<div class="t" style="left:87.20px;top:660.80px;font-size:11.22px;line-height:11.22px;color:#969696;font-weight:700;transform:scaleX(0.9091);transform-origin:0 0;">Path Probe -</div>
<div class="a" style="left:150.30px;top:658.30px;width:153.90px;height:15.40px;background:#000"></div>
<div class="a" style="left:305.70px;top:665.50px;width:3.50px;height:1.50px;background:#dddddd"></div>
<div class="a" style="left:312.20px;top:658.30px;width:217.60px;height:16.10px;background:#000"></div>
<div class="a" style="left:534.2px;top:659.2px;width:44px;height:15.8px;border-radius:8px;background:#1e4458;color:#5ab4dc;font-size:8.8px;line-height:17.6px;text-align:center">Service</div>
<div class="t" style="left:54.40px;top:676.65px;font-size:9.75px;line-height:9.75px;color:#dcdcdc;font-weight:400;transform:scaleX(0.9091);transform-origin:0 0;">Client:</div>
<div class="a" style="left:82.00px;top:675.10px;width:118.90px;height:13.70px;background:#000"></div>
<svg style="left:920px;top:648px" width="240" height="52" viewBox="920 648 240 52">
<defs>
<radialGradient id="wg1" cx="0.35" cy="0.35" r="0.75"><stop offset="0" stop-color="#4cb82a"/><stop offset="0.6" stop-color="#1a8414"/><stop offset="1" stop-color="#0b560a"/></radialGradient>
</defs>
<g stroke="#343a47" stroke-width="0.9" stroke-dasharray="1.5 1.6">
<line x1="1006" y1="690.9" x2="1132.8" y2="690.9"/></g><g stroke="#33363c" stroke-width="0.8" stroke-dasharray="1.2 1.6">
<line x1="1006" y1="676" x2="1006" y2="688"/><line x1="1050.5" y1="676" x2="1050.5" y2="688"/><line x1="1094.4" y1="676" x2="1094.4" y2="688"/><line x1="1132.8" y1="676" x2="1132.8" y2="688"/>
</g>
<circle cx="1006.2" cy="664.2" r="11" fill="#15213a"/>
<circle cx="1006.2" cy="664.2" r="9" fill="url(#wg1)"/>
<g fill="#62c030" opacity="0.7"><ellipse cx="1002.5" cy="661" rx="2.6" ry="1.8"/><ellipse cx="1008" cy="659.5" rx="1.8" ry="1.2"/><ellipse cx="1005" cy="666" rx="2" ry="1.3"/><ellipse cx="1011" cy="666.5" rx="1.4" ry="2"/><ellipse cx="1001.5" cy="668" rx="1.2" ry="1.6"/></g>
<g fill="#0a5a0a" opacity="0.8"><ellipse cx="1009" cy="663" rx="1.8" ry="1.2"/><ellipse cx="1004" cy="670" rx="2" ry="1"/><ellipse cx="1007.5" cy="669.5" rx="1.2" ry="1.6"/></g>
<path d="M998.4 660.5 A9 9 0 0 1 1004 655.6" fill="none" stroke="#d8f0d0" stroke-width="0.8" opacity="0.7"/>
<circle cx="1050.3" cy="664.4" r="11.3" fill="#f3f6f0"/>
<circle cx="1050.3" cy="664.4" r="10.1" fill="none" stroke="#2f9a3a" stroke-width="0.9"/>
<ellipse cx="1044.4" cy="664.6" rx="3.8" ry="2.9" fill="#e2382a"/>
<ellipse cx="1053.6" cy="662.2" rx="4.6" ry="2.1" fill="#e6d040"/>
<ellipse cx="1053.6" cy="662.4" rx="2.6" ry="1" fill="#c8c020"/>
<ellipse cx="1049.7" cy="668.8" rx="1.6" ry="1.1" fill="#8cc040"/>
<circle cx="1094.4" cy="663.6" r="11.8" fill="#171e2f" stroke="#232c42" stroke-width="0.9"/>
<rect x="1088.2" y="658.9" width="12.8" height="9.1" fill="#3a7ad8"/>
<g fill="#2450a8" opacity="0.9"><rect x="1090" y="660.5" width="1.6" height="1.6"/><rect x="1093" y="661.2" width="1.6" height="1.6"/><rect x="1096.3" y="660.5" width="1.6" height="1.6"/><rect x="1091" y="664.3" width="1.6" height="1.6"/><rect x="1094.5" y="665" width="1.6" height="1.6"/><rect x="1097.8" y="663.6" width="1.4" height="1.4"/></g>
<circle cx="1133.2" cy="664.4" r="11.8" fill="#171e2f" stroke="#232c42" stroke-width="0.9"/>
<path d="M1134.9 657.3 L1127.8 665.7 L1132.7 665.7 L1131.4 671 L1138.2 662.7 L1133.3 662.7 Z" fill="#4a8ef0"/>
<circle cx="1006" cy="690.9" r="3.5" fill="#e2454f"/>
<circle cx="1050.5" cy="690.9" r="2.5" fill="#6a6a6a"/>
<circle cx="1094.4" cy="690.9" r="2.5" fill="#6a6a6a"/>
<circle cx="1132.8" cy="690.9" r="3.5" fill="#e2454f"/>
</svg>
<div class="t" style="right:384.80px;top:686.71px;font-size:8.14px;line-height:8.14px;color:#8a8a8a;font-weight:400;transform:scaleX(0.9091);transform-origin:100% 0;">Mar 23, 02:03 PM</div>
<div class="a" style="left:1313.90px;top:668.05px;width:10.20px;height:1.30px;background:#d8d8d8"></div>
<div class="a" style="left:1313.90px;top:671.55px;width:10.20px;height:1.30px;background:#d8d8d8"></div>
<div class="a" style="left:1313.90px;top:674.95px;width:10.20px;height:1.30px;background:#d8d8d8"></div>
<div class="t" style="left:47.90px;top:722.30px;font-size:11.11px;line-height:11.11px;color:#dedede;font-weight:400;transform:scaleX(0.9091);transform-origin:0 0;">Items per page:</div>
<div class="a" style="left:125.70px;top:718.20px;width:43.20px;height:20.20px;border:1px solid #2a2a2a;border-radius:4px"></div>
<div class="t" style="left:131.80px;top:722.11px;font-size:11.33px;line-height:11.33px;color:#e6e6e6;font-weight:400;transform:scaleX(0.9091);transform-origin:0 0;">15</div>
<svg style="left:156px;top:726px" width="10" height="6" viewBox="0 0 10 6"><path d="M1 1 L4.8 4.6 L8.6 1" fill="none" stroke="#cfcfcf" stroke-width="1.1"/></svg>
<div class="t" style="left:175.90px;top:722.11px;font-size:11.33px;line-height:11.33px;color:#e6e6e6;font-weight:400;transform:scaleX(0.9091);transform-origin:0 0;">Showing 1 to 1 of 1 results</div>
<div class="a" style="left:1230.80px;top:717.90px;width:102.60px;height:21.20px;border:1px solid #262626;border-radius:4px"></div>
<div class="a" style="left:1250.30px;top:718.90px;width:1.00px;height:19.20px;background:#262626"></div>
<div class="a" style="left:1313.00px;top:718.90px;width:1.00px;height:19.20px;background:#262626"></div>
<div class="a" style="left:1270.10px;top:717.60px;width:24.20px;height:22.10px;background:#3b7fe6"></div>
<div class="t" style="left:1082.20px;width:400px;text-align:center;top:723.71px;font-size:11.33px;line-height:11.33px;color:#ffffff;font-weight:400;transform:scaleX(0.9091);transform-origin:50% 0;">1</div>
<svg style="left:1231px;top:718px" width="103" height="21" viewBox="1231 718 103 21"><g fill="none" stroke="#8a8a8a" stroke-width="1" stroke-linecap="round" stroke-linejoin="round">
<path d="M1241.3 724.8 L1238.3 728.2 L1241.3 731.6 M1244.5 724.8 L1241.5 728.2 L1244.5 731.6"/>
<path d="M1261.8 724.8 L1258.8 728.2 L1261.8 731.6"/>
<path d="M1302.5 724.8 L1305.5 728.2 L1302.5 731.6"/>
<path d="M1320.2 724.8 L1323.2 728.2 L1320.2 731.6 M1323.4 724.8 L1326.4 728.2 L1323.4 731.6"/>
</g></svg>
</body></html>
